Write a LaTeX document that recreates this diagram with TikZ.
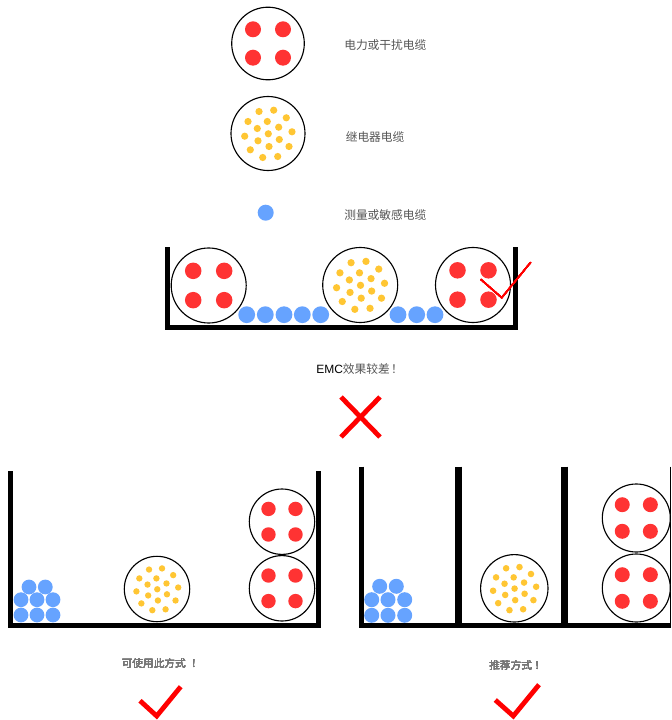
\documentclass[tikz,border=0pt]{standalone}
\usepackage{fontspec}
\setmainfont{Liberation Sans}
\newfontfamily\cjk{Noto Sans CJK SC}
\definecolor{pwrred}{HTML}{FF3333}
\definecolor{relayyellow}{HTML}{FFC633}
\definecolor{sigblue}{HTML}{66A3FF}
\definecolor{txtgray}{HTML}{555555}
\definecolor{smallgray}{HTML}{777777}
\definecolor{markred}{HTML}{FF0000}
\tikzset{
  shell/.style={draw=black,fill=white,line width=.85pt},
  trayline/.style={draw=black,line width=#1,miter limit=10,line join=miter},
  bigmark/.style={draw=markred,line width=3.6pt,line join=miter,miter limit=10},
  thinmark/.style={draw=markred,line width=1.1pt,line join=miter},
  caption/.style={anchor=west,inner sep=0pt,text=txtgray,font=\cjk\fontsize{8.8}{11}\selectfont},
  smallcaption/.style={anchor=west,inner sep=0pt,text=smallgray,font=\cjk\fontsize{8}{10}\selectfont},
  sig/.style={fill=sigblue},
}
\newcommand{\powercable}[3]{%
  \begin{scope}[shift={(#1,#2)},scale=#3/36.3]
    \draw[shell] (0,0) circle[radius=36.3];
    \foreach \a/\b in {-15/-14.2,15/-14.2,-15/14.2,15/14.2}
      \fill[pwrred] (\a,\b) circle[radius=8];
  \end{scope}}
\newcommand{\relaycable}[3]{%
  \begin{scope}[shift={(#1,#2)},scale=#3/37]
    \draw[shell] (0,0) circle[radius=37];
    \foreach \a/\b in {-9/-22,5.7/-23.3,-20/-12,-0.7/-12,18.3/-15.7,-10.7/-5,10.7/-6.3,-23.3/2.7,0.3/0.3,24/-1.7,-10/7.3,11.3/6,-17.7/16.3,1/13,21/13,-5.3/24,9.7/23}
      \fill[relayyellow] (\a,\b) circle[radius=3.6];
  \end{scope}}
\newcommand{\sigcable}[3]{\fill[sig] (#1,#2) circle[radius=#3];}
\begin{document}
\begin{tikzpicture}[x=0.75pt,y=-0.75pt]
\useasboundingbox (0,0) rectangle (671,720);
\fill[white] (0,0) rectangle (671,720);

% legend
\powercable{268}{43.5}{36.3}
\relaycable{268}{133.5}{37}
\sigcable{265.7}{212.7}{8}
\node[caption] (t1) at (344,45.3) {电力或干扰电缆};
\node[caption] (t2) at (345.5,137.3) {继电器电缆};
\node[caption] (t3) at (344,215.3) {测量或敏感电缆};

% top tray
\draw[trayline=3.9pt] (167.8,247) -- (167.8,327.2) -- (515.2,327.2) -- (515.2,247);
\powercable{208.7}{285.5}{37.5}
\relaycable{360.2}{285}{37.5}
\powercable{473}{285}{37.5}
\foreach \a in {246.7,265.3,284,302.3,320.7,398,416.7,435}
  \sigcable{\a}{314.7}{8.4}
\draw[thinmark] (480.7,279.3) -- (501.7,297.7) -- (530.7,262.3);
\node[caption,text=black] (t4) at (316,369.3) {{\rmfamily\fontsize{9}{11}\selectfont EMC}{\color{txtgray}\cjk 效果较差\hspace{1pt}！}};
\coordinate (xa) at (341,397);
\coordinate (xb) at (380,437);
\coordinate (xc) at (380,397);
\coordinate (xd) at (341,437);
\draw[bigmark] (xa) -- (xb);
\draw[bigmark] (xc) -- (xd);

% lower left tray
\draw[trayline=3.5pt] (10.8,471) -- (10.8,625.5) -- (318.5,625.5) -- (318.5,471);
\relaycable{157}{589}{32.7}
\powercable{282}{588.3}{32.7}
\powercable{282}{521.7}{32.7}
\foreach \a/\b in {21/615,37/615,53/615,21/599.7,37/599.7,53/599.7,29/587,45.3/587}
  \sigcable{\a}{\b}{7.4}
\node[smallcaption] (t5) at (121.5,663.5) {可使用此方式\hspace{4pt}！};
\draw[bigmark] (140,700.7) -- (156.7,716) -- (180.7,686.7);

% lower right tray
\draw[trayline=3.5pt] (361.3,466.7) -- (361.3,625.8) -- (671,625.8);
\draw[trayline=5.2pt] (458.8,466.7) -- (458.8,625.8);
\draw[trayline=5.2pt] (564.8,466.7) -- (564.8,625.8);
\draw[black,line width=.8pt] (670.3,466.7) -- (670.3,625.8);
\relaycable{514.3}{588.3}{33.7}
\powercable{636.3}{518}{34}
\powercable{636.3}{588}{34}
\foreach \a/\b in {371.7/615.3,388/615.3,404.7/615.3,371.7/599.7,388/599.7,404.7/599.7,379.7/586.3,396.3/586.3}
  \sigcable{\a}{\b}{7.5}
\node[smallcaption] (t6) at (489,665.5) {推荐方式\hspace{2pt}！};
\draw[bigmark] (495.3,700) -- (513.3,716) -- (539,684.7);
\end{tikzpicture}
\end{document}
